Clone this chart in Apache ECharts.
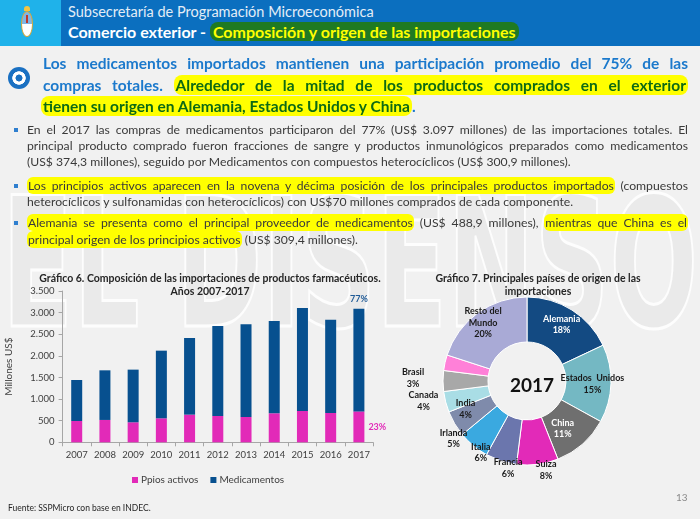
<!DOCTYPE html>
<html><head><meta charset="utf-8">
<script src="https://cdn.jsdelivr.net/npm/echarts@6/dist/echarts.min.js"></script>
<style>
html,body{margin:0;padding:0;}
body{width:700px;height:519px;position:relative;overflow:hidden;background:#f1f1f1;font-family:Lato,"Noto Sans",sans-serif;}
#wm{position:absolute;left:0;top:150px;width:700px;height:190px;z-index:0;}
#chart{position:absolute;left:0;top:0;width:700px;height:519px;z-index:1;}
.abs{position:absolute;z-index:2;}
#hdr{left:0;top:0;width:700px;height:46px;background:#0b6fbf;}
#hdrl{left:0;top:0;width:61px;height:46px;background:#1fb2ea;}
.h1{left:68px;top:3px;font-size:14.5px;color:#e3edf7;line-height:18px;white-space:nowrap;}
.h2{left:68px;top:22px;font-size:16px;font-weight:bold;color:#ffffff;line-height:20px;white-space:nowrap;}
.h2 .g{color:#ffff00;background:#1f7a22;border-radius:8px;padding:0 3px;}
.hl{font-weight:bold;font-size:15.5px;line-height:21px;color:#1b79cc;left:43px;width:645px;}
.hl .g{color:#0d6a14;background:#ffff00;border-radius:8px;padding:1px 2px;}
.bl{font-size:12.2px;line-height:16.5px;color:#3a3a3a;left:27px;width:661px;}
.bl .y{background:#ffff00;border-radius:6px;padding:1px 1px;}
.j{text-align:justify;text-align-last:justify;}
.sq{width:4px;height:4px;background:#2f7fcf;left:14px;}
</style></head>
<body>
<svg id="wm" viewBox="0 0 700 190"><text x="2" y="176" textLength="696" lengthAdjust="spacingAndGlyphs" font-family="DejaVu Sans" font-weight="bold" font-size="180" fill="#eaeaea" stroke="#fdfdfd" stroke-width="3">EL DISENSO</text></svg>
<div id="chart"></div>

<div class="abs" id="hdr"></div>
<div class="abs" id="hdrl"></div>
<div class="abs" style="left:21px;top:6px;width:12px;height:34px;">
  <div style="position:absolute;left:3px;top:0;width:6px;height:5px;border-radius:3px 3px 0 0;background:#f4c542;"></div>
  <div style="position:absolute;left:0;top:5px;width:12px;height:26px;border-radius:6px/13px;background:linear-gradient(#7fb6e6 0 50%,#ffffff 50% 100%);border:1px solid #d9a93a;box-sizing:border-box;"></div>
  <div style="position:absolute;left:5px;top:9px;width:2px;height:8px;background:#c0392b;"></div>
</div>
<div class="abs h1">Subsecretaría de Programación Microeconómica</div>
<div class="abs h2">Comercio exterior - <span class="g">Composición y origen de las importaciones</span></div>

<div class="abs" style="left:8px;top:67px;width:22px;height:22px;border-radius:50%;background:radial-gradient(circle,#1a70c2 0 3.2px,#ffffff 3.8px 6.4px,#1a70c2 7px);"></div>
<div class="abs hl j fit" style="top:53px;">Los medicamentos importados mantienen una participación promedio del 75% de las</div>
<div class="abs hl j fit" style="top:75px;">compras totales. <span class="g">Alrededor de la mitad de los productos comprados en el exterior</span></div>
<div class="abs hl" style="top:96px;left:41px;"><span class="g">tienen su origen en Alemania, Estados Unidos y China</span>.</div>

<div class="abs sq" style="top:128px;"></div>
<div class="abs bl j fit" style="top:121.5px;">En el 2017 las compras de medicamentos participaron del 77% (US$ 3.097 millones) de las importaciones totales. El</div>
<div class="abs bl j fit" style="top:138px;">principal producto comprado fueron fracciones de sangre y productos inmunológicos preparados como medicamentos</div>
<div class="abs bl" style="top:154px;">(US$ 374,3 millones), seguido por Medicamentos con compuestos heterocíclicos (US$ 300,9 millones).</div>

<div class="abs sq" style="top:184px;"></div>
<div class="abs bl j fit" style="top:177.5px;"><span class="y">Los principios activos aparecen en la novena y décima posición de los principales productos importados</span> (compuestos</div>
<div class="abs bl" style="top:194px;">heterocíclicos y sulfonamidas con heterocíclicos) con US$70 millones comprados de cada componente.</div>

<div class="abs sq" style="top:221px;"></div>
<div class="abs bl j fit" style="top:215px;"><span class="y">Alemania se presenta como el principal proveedor de medicamentos</span> (US$ 488,9 millones), <span class="y">mientras que China es el</span></div>
<div class="abs bl" style="top:231.5px;"><span class="y">principal origen de los principios activos</span> (US$ 309,4 millones).</div>

<div class="abs" style="left:8px;top:503px;font-size:8.5px;color:#262626;white-space:nowrap;">Fuente: SSPMicro con base en INDEC.</div>
<div class="abs" style="left:676px;top:491px;font-size:10px;color:#8a8a8a;">13</div>

<script>
// ---- data ----
var years = ['2007','2008','2009','2010','2011','2012','2013','2014','2015','2016','2017'];
var ppiosActivos = [493, 517, 463, 555, 640, 609, 586, 671, 725, 678, 715];
var medicamentos = [948, 1148, 1218, 1565, 1773, 2081, 2143, 2135, 2382, 2159, 2376];
var yTicks = [0, 500, 1000, 1500, 2000, 2500, 3000, 3500];

var paises = ['Alemania','Estados Unidos','China','Suiza','Francia','Italia','Irlanda','India','Canada','Brasil','Resto del Mundo'];
var participacion = [18, 15, 11, 8, 6, 6, 5, 4, 4, 3, 20];

// ---- styles ----
var FONT = 'Lato, "Noto Sans", sans-serif';
var pieColors = ['#134a82','#74b8c3','#6f6f6f','#e22ab8','#6b76ad','#3aa9e0','#7f8bab','#a9dde5','#a8a8a8','#ff80d8','#a9aad6'];
var labelColors = ['#ffffff','#1a1a1a','#ffffff','#1a1a1a','#1a1a1a','#1a1a1a','#1a1a1a','#1a1a1a','#1a1a1a','#1a1a1a','#1a1a1a'];
var labelText = {'Estados Unidos':'Estados  Unidos','Resto del Mundo':'Resto del\nMundo'};
var labelShift = [[0,-2],[1,1],[-7,-1],[11,25],[1,26],[-5,22],[-18,25],[1,12],[-39,20],[-51,11],[-6,-6]];

function fmtThousands(v){ return String(v).replace(/\B(?=(\d{3})+(?!\d))/g,'.'); }

// fit justified lines
document.querySelectorAll('.fit').forEach(function(el){
  var cs = getComputedStyle(el);
  var fs = parseFloat(cs.fontSize), lh = parseFloat(cs.lineHeight), n = 0;
  while (el.scrollHeight > lh * 1.4 && n < 80) { fs -= 0.1; el.style.fontSize = fs + 'px'; n++; }
});

var last = years.length - 1;
var chart = echarts.init(document.getElementById('chart'), null, {renderer:'canvas'});
chart.setOption({
  backgroundColor: 'transparent',
  animation: false,
  textStyle: {fontFamily: FONT},
  title: [
    {text: 'Gráfico 6. Composición de las importaciones de productos farmacéuticos.\nAños 2007-2017',
     left: 205, top: 267, textAlign: 'center',
     textStyle: {fontSize: 10.5, fontWeight: 'bold', color: '#262626', lineHeight: 13, fontFamily: FONT}},
    {text: 'Gráfico 7. Principales países de origen de las\nimportaciones',
     left: 533, top: 267, textAlign: 'center',
     textStyle: {fontSize: 10.5, fontWeight: 'bold', color: '#262626', lineHeight: 13, fontFamily: FONT}},
    {text: '2017', left: 527, top: 381, textAlign: 'center', textVerticalAlign: 'middle',
     textStyle: {fontSize: 19, fontWeight: 'bold', color: '#111111', fontFamily: FONT}}
  ],
  legend: {
    data: ['Ppios activos','Medicamentos'], left: 127, top: 470,
    icon: 'rect', itemWidth: 6, itemHeight: 6, itemGap: 12,
    textStyle: {fontSize: 10, color: '#404040', fontFamily: FONT, padding: [0,0,0,-2]}
  },
  grid: {left: 62.6, right: 327, top: 291, bottom: 76.7, containLabel: false},
  xAxis: {
    type: 'category', data: years,
    axisLine: {lineStyle: {color: '#a6a6a6'}},
    axisTick: {show: true, length: 4, lineStyle: {color: '#a6a6a6'}},
    axisLabel: {interval: 0, fontSize: 9.5, color: '#404040', margin: 8, fontFamily: FONT}
  },
  yAxis: {
    type: 'value', min: yTicks[0], max: yTicks[yTicks.length-1], interval: yTicks[1]-yTicks[0],
    name: 'Millones US$', nameLocation: 'middle', nameGap: 49, nameRotate: 90,
    nameTextStyle: {fontSize: 10, color: '#404040', fontFamily: FONT},
    axisLine: {show: true, lineStyle: {color: '#a6a6a6'}},
    axisTick: {show: true, length: 4, lineStyle: {color: '#a6a6a6'}},
    splitLine: {show: false},
    axisLabel: {fontSize: 9.5, color: '#404040', margin: 8, fontFamily: FONT, formatter: fmtThousands}
  },
  series: [
    {name: 'Ppios activos', type: 'bar', stack: 'total', barWidth: 11, data: ppiosActivos,
     itemStyle: {color: '#e22ab8'},
     label: {show: true, position: 'right', distance: 4, fontSize: 9, fontWeight: 'bold', color: '#e22ab8', fontFamily: FONT,
       formatter: function(p){ return p.dataIndex === last ? Math.round(ppiosActivos[last]/(ppiosActivos[last]+medicamentos[last])*100) + '%' : ''; }}},
    {name: 'Medicamentos', type: 'bar', stack: 'total', barWidth: 11, data: medicamentos,
     itemStyle: {color: '#07508f'},
     label: {show: true, position: 'top', distance: 5, fontSize: 9, fontWeight: 'bold', color: '#1f5a96', fontFamily: FONT,
       formatter: function(p){ return p.dataIndex === last ? Math.round(medicamentos[last]/(ppiosActivos[last]+medicamentos[last])*100) + '%' : ''; }}},
    {name: 'Origen', type: 'pie', center: [527, 381], radius: [39, 84], startAngle: 90, clockwise: true,
     avoidLabelOverlap: false, silent: true,
     data: paises.map(function(n, i){ return {name: n, value: participacion[i],
        itemStyle: {color: pieColors[i]}, label: {color: labelColors[i]}}; }),
     itemStyle: {borderColor: '#ffffff', borderWidth: 1},
     label: {show: true, position: 'inside', fontSize: 9, fontWeight: 'bold', lineHeight: 11.5, fontFamily: FONT,
       formatter: function(p){ return (labelText[p.name] || p.name) + '\n' + p.value + '%'; }},
     labelLine: {show: false},
     labelLayout: function(p){ var s = labelShift[p.dataIndex]; return {dx: s[0], dy: s[1]}; }
    }
  ]
});
</script>
</body></html>
